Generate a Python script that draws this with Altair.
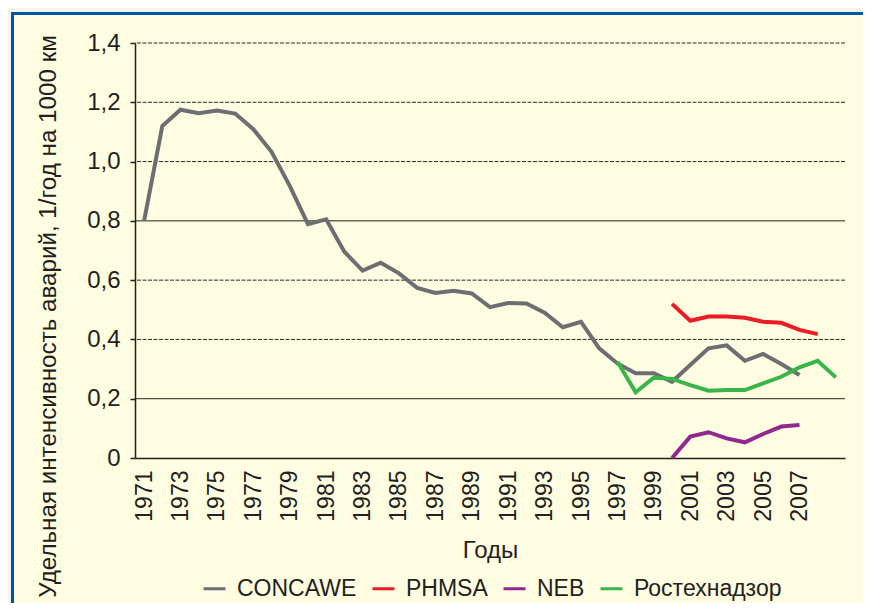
import altair as alt
import pandas as pd

years = list(range(1971, 2010))
series_names = ["CONCAWE", "PHMSA", "NEB", "Ростехнадзор"]
series_colors = ["#6d6e71", "#ed1c24", "#92278f", "#3ab54a"]

concawe_years = list(range(1971, 2008))
concawe = [0.80, 1.12, 1.175, 1.163, 1.172, 1.162, 1.109, 1.033, 0.918, 0.789,
           0.805, 0.696, 0.632, 0.659, 0.623, 0.574, 0.557, 0.564, 0.555, 0.509,
           0.523, 0.521, 0.490, 0.441, 0.459, 0.370, 0.319, 0.286, 0.286, 0.257,
           0.314, 0.370, 0.380, 0.328, 0.351, 0.317, 0.280]
phmsa_years = list(range(2000, 2009))
phmsa = [0.520, 0.463, 0.477, 0.477, 0.473, 0.460, 0.456, 0.432, 0.418]
neb_years = list(range(2000, 2008))
neb = [0.0, 0.072, 0.087, 0.066, 0.053, 0.081, 0.106, 0.111]
rtn_years = list(range(1997, 2010))
rtn = [0.325, 0.222, 0.271, 0.267, 0.246, 0.227, 0.229, 0.229, 0.252, 0.274,
       0.306, 0.328, 0.272]

y_ticks = [0, 0.2, 0.4, 0.6, 0.8, 1.0, 1.2, 1.4]
x_label_years = list(range(1971, 2008, 2))
grid_dashed = [0.4, 0.6, 1.0, 1.2, 1.4]
grid_solid = [0.2, 0.8]

rows = []
for name, ys, vs in [("CONCAWE", concawe_years, concawe),
                     ("PHMSA", phmsa_years, phmsa),
                     ("NEB", neb_years, neb),
                     ("Ростехнадзор", rtn_years, rtn)]:
    for yr, v in zip(ys, vs):
        rows.append({"year": yr, "value": v, "series": name})
df = pd.DataFrame(rows)

FONT = "Liberation Sans, Arial, Helvetica, sans-serif"
TXT = "#231f20"
BG = "#fffde1"
OUTER = "#f4f4ef"
BLUE = "#0054a6"

one = pd.DataFrame({"a": [0]})

# outer strips and blue frame (pixel positions relative to plot origin)
strip_top = alt.Chart(one).mark_rect(color=OUTER).encode(
    x=alt.value(-127), x2=alt.value(728), y=alt.value(-35), y2=alt.value(-31))
strip_left = alt.Chart(one).mark_rect(color=OUTER).encode(
    x=alt.value(-127), x2=alt.value(-124), y=alt.value(-35), y2=alt.value(560))
frame_top = alt.Chart(one).mark_rule(color=BLUE, strokeWidth=3).encode(
    x=alt.value(-124), x2=alt.value(728), y=alt.value(-29.5))
frame_left = alt.Chart(one).mark_rule(color=BLUE, strokeWidth=3).encode(
    x=alt.value(-122.5), y=alt.value(-31), y2=alt.value(560))

g_dash = alt.Chart(pd.DataFrame({"v": grid_dashed})).mark_rule(
    color="#2a2a2a", strokeWidth=1, strokeDash=[4, 1.5]).encode(
    y=alt.Y("v:Q", scale=alt.Scale(domain=[0, 1.4])))
g_solid = alt.Chart(pd.DataFrame({"v": grid_solid})).mark_rule(
    color="#231f20", strokeWidth=1).encode(
    y=alt.Y("v:Q", scale=alt.Scale(domain=[0, 1.4])))

lines = alt.Chart(df).mark_line(strokeWidth=4).encode(
    x=alt.X("year:O",
            scale=alt.Scale(type="point", padding=0.5, domain=years),
            axis=alt.Axis(values=x_label_years, labelAngle=-90, ticks=False,
                          labelPadding=12, labelFontSize=23, labelColor=TXT,
                          labelFont=FONT, domainColor=TXT, domainWidth=1.5,
                          grid=False, title="Годы", titleFontSize=24,
                          titleFont=FONT, titleColor=TXT,
                          titleFontWeight="normal", titleY=99,
                          titleBaseline="alphabetic")),
    y=alt.Y("value:Q",
            scale=alt.Scale(domain=[0, 1.4]),
            axis=alt.Axis(values=y_ticks,
                          labelExpr="datum.value == 0 ? '0' : replace(format(datum.value, '.1f'), '.', ',')",
                          tickSize=5, tickColor=TXT, tickWidth=1.5,
                          domainColor=TXT, domainWidth=1.5,
                          labelFontSize=24, labelFont=FONT, labelColor=TXT,
                          labelPadding=10, grid=False,
                          title="Удельная интенсивность аварий, 1/год на 1000 км",
                          titleFontSize=24.2, titleFont=FONT, titleColor=TXT,
                          titleFontWeight="normal", titleX=-80, titleY=273,
                          titleAlign="center", titleBaseline="alphabetic",
                          titleAngle=-90)),
    color=alt.Color("series:N",
                    scale=alt.Scale(domain=series_names, range=series_colors),
                    legend=alt.Legend(title=None, orient="none",
                                      direction="horizontal",
                                      legendX=67, legendY=533,
                                      symbolType="stroke", symbolSize=484,
                                      symbolStrokeWidth=3, labelOffset=10,
                                      columnPadding=9, padding=0,
                                      labelFontSize=23, labelFont=FONT,
                                      labelColor=TXT)),
    detail="series:N",
)

chart = alt.layer(strip_top, strip_left, frame_top, frame_left,
                  g_dash, g_solid, lines).properties(
    width=710, height=415,
    autosize=alt.AutoSizeParams(type="none"),
    padding={"left": 127, "top": 35, "right": 18, "bottom": 145},
    background=BG,
).configure_view(stroke=None, fill=None)

chart.save("out.html", embed_options={"renderer": "svg", "actions": False})
